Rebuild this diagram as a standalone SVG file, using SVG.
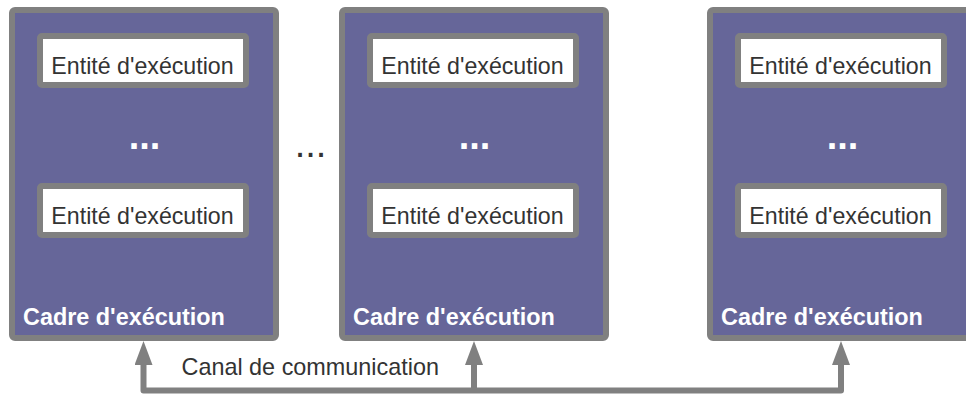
<svg xmlns="http://www.w3.org/2000/svg" width="966" height="394" viewBox="0 0 966 394">
<defs>
<style>
.frame{fill:#666699;stroke:#808080;stroke-width:6}
.ent{fill:#ffffff;stroke:#808080;stroke-width:6}
.etxt{font-family:"Liberation Sans",Arial,sans-serif;font-size:23.2px;fill:#333333;text-anchor:middle}
.ftxt{font-family:"Liberation Sans",Arial,sans-serif;font-size:23.4px;font-weight:bold;fill:#ffffff}
.dots{font-family:"Liberation Sans",Arial,sans-serif;font-size:38px;font-weight:bold;fill:#ffffff;text-anchor:middle}
.conn{fill:none;stroke:#808080;stroke-width:6;stroke-linejoin:round}
</style>
<marker id="arr" markerUnits="userSpaceOnUse" markerWidth="24" markerHeight="18" viewBox="0 0 24 18" refX="3" refY="9" orient="auto-start-reverse">
<path d="M0,0 L24,9 L0,18 z" fill="#808080"/>
</marker>
</defs>
<rect width="966" height="394" fill="#ffffff"/>
<g id="frame1">
<rect class="frame" x="12" y="10" width="264" height="328" rx="3"/>
<g id="entity1a"><rect class="ent" x="40" y="36" width="206" height="49" rx="2"/><text class="etxt" x="142.5" y="73.5">Entité d'exécution</text></g>
<text class="dots" x="144.5" y="149">...</text>
<g id="entity1b"><rect class="ent" x="40" y="186" width="206" height="49" rx="2"/><text class="etxt" x="142.5" y="223.5">Entité d'exécution</text></g>
<text class="ftxt" x="23" y="325">Cadre d'exécution</text>
</g>
<g id="frame2">
<rect class="frame" x="342" y="10" width="264" height="328" rx="3"/>
<g id="entity2a"><rect class="ent" x="370" y="36" width="206" height="49" rx="2"/><text class="etxt" x="472.5" y="73.5">Entité d'exécution</text></g>
<text class="dots" x="474.5" y="149">...</text>
<g id="entity2b"><rect class="ent" x="370" y="186" width="206" height="49" rx="2"/><text class="etxt" x="472.5" y="223.5">Entité d'exécution</text></g>
<text class="ftxt" x="353" y="325">Cadre d'exécution</text>
</g>
<g id="gap">
<text x="310.5" y="157" style="font-family:'Liberation Sans',Arial,sans-serif;font-size:38px;fill:#333333;text-anchor:middle">...</text>
</g>
<g id="frame3">
<rect class="frame" x="710" y="10" width="264" height="328" rx="3"/>
<g id="entity3a"><rect class="ent" x="738" y="36" width="206" height="49" rx="2"/><text class="etxt" x="840.5" y="73.5">Entité d'exécution</text></g>
<text class="dots" x="842.5" y="149">...</text>
<g id="entity3b"><rect class="ent" x="738" y="186" width="206" height="49" rx="2"/><text class="etxt" x="840.5" y="223.5">Entité d'exécution</text></g>
<text class="ftxt" x="721" y="325">Cadre d'exécution</text>
</g>
<g id="connectors">
<path class="conn" d="M143.5,362 V390.5 H841 V362" marker-start="url(#arr)" marker-end="url(#arr)"/>
<path class="conn" d="M474,390.5 V362" marker-end="url(#arr)"/>
<text x="181.5" y="375" style="font-family:'Liberation Sans',Arial,sans-serif;font-size:23.4px;fill:#333333">Canal de communication</text>
</g>
</svg>
